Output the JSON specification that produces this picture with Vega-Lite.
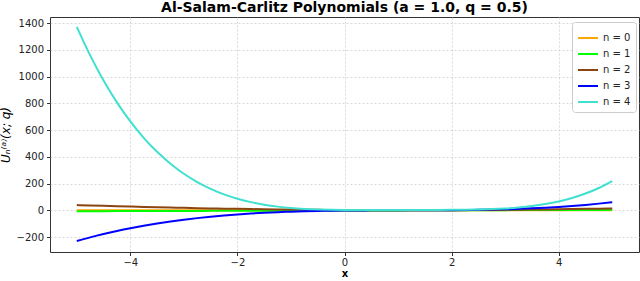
{
  "$schema": "https://vega.github.io/schema/vega-lite/v6.json",
  "width": 589,
  "height": 235,
  "autosize": {"type": "none"},
  "padding": {"left": 50, "top": 17, "right": 1, "bottom": 29},
  "background": "white",
  "config": {
    "font": "DejaVu Sans",
    "view": {"stroke": "#333333", "strokeWidth": 1},
    "axis": {
      "domain": false,
      "grid": true,
      "gridColor": "#cfcfcf",
      "gridDash": [2, 2],
      "gridWidth": 0.8,
      "tickColor": "#333333",
      "tickSize": 3.5,
      "labelFont": "DejaVu Sans",
      "labelFontSize": 10,
      "labelColor": "#222222",
      "labelPadding": 3,
      "titleFont": "DejaVu Sans",
      "titleColor": "#000000"
    }
  },
  "title": {
    "text": "Al-Salam-Carlitz Polynomials (a = 1.0, q = 0.5)",
    "font": "DejaVu Sans",
    "fontSize": 14,
    "fontWeight": "bold",
    "color": "#000000",
    "anchor": "middle",
    "offset": 2
  },
  "data": {
    "values": [
      {"x": -5, "n0": 1, "n1": -7, "n2": 39, "n3": -229.5, "n4": 1371},
      {"x": -4.75, "n0": 1, "n1": -6.75, "n2": 35.94, "n3": -202.63, "n4": 1157.81},
      {"x": -4.5, "n0": 1, "n1": -6.5, "n2": 33, "n3": -177.95, "n4": 970.4},
      {"x": -4.25, "n0": 1, "n1": -6.25, "n2": 30.19, "n3": -155.37, "n4": 806.62},
      {"x": -4, "n0": 1, "n1": -6, "n2": 27.5, "n3": -134.8, "n4": 664.4},
      {"x": -3.75, "n0": 1, "n1": -5.75, "n2": 24.94, "n3": -116.14, "n4": 541.77},
      {"x": -3.5, "n0": 1, "n1": -5.5, "n2": 22.5, "n3": -99.3, "n4": 436.88},
      {"x": -3.25, "n0": 1, "n1": -5.25, "n2": 20.19, "n3": -84.19, "n4": 347.92},
      {"x": -3, "n0": 1, "n1": -5, "n2": 18, "n3": -70.7, "n4": 273.2},
      {"x": -2.75, "n0": 1, "n1": -4.75, "n2": 15.94, "n3": -58.75, "n4": 211.15},
      {"x": -2.5, "n0": 1, "n1": -4.5, "n2": 14, "n3": -48.25, "n4": 160.25},
      {"x": -2.25, "n0": 1, "n1": -4.25, "n2": 12.19, "n3": -39.1, "n4": 119.11},
      {"x": -2, "n0": 1, "n1": -4, "n2": 10.5, "n3": -31.2, "n4": 86.4},
      {"x": -1.75, "n0": 1, "n1": -3.75, "n2": 8.94, "n3": -24.47, "n4": 60.92},
      {"x": -1.5, "n0": 1, "n1": -3.5, "n2": 7.5, "n3": -18.8, "n4": 41.53},
      {"x": -1.25, "n0": 1, "n1": -3.25, "n2": 6.19, "n3": -14.11, "n4": 27.2},
      {"x": -1, "n0": 1, "n1": -3, "n2": 5, "n3": -10.3, "n4": 17},
      {"x": -0.75, "n0": 1, "n1": -2.75, "n2": 3.94, "n3": -7.28, "n4": 10.09},
      {"x": -0.5, "n0": 1, "n1": -2.5, "n2": 3, "n3": -4.95, "n4": 5.7},
      {"x": -0.25, "n0": 1, "n1": -2.25, "n2": 2.19, "n3": -3.22, "n4": 3.19},
      {"x": 0, "n0": 1, "n1": -2, "n2": 1.5, "n3": -2, "n4": 2},
      {"x": 0.25, "n0": 1, "n1": -1.75, "n2": 0.94, "n3": -1.19, "n4": 1.65},
      {"x": 0.5, "n0": 1, "n1": -1.5, "n2": 0.5, "n3": -0.7, "n4": 1.78},
      {"x": 0.75, "n0": 1, "n1": -1.25, "n2": 0.19, "n3": -0.44, "n4": 2.09},
      {"x": 1, "n0": 1, "n1": -1, "n2": 0, "n3": -0.3, "n4": 2.4},
      {"x": 1.25, "n0": 1, "n1": -0.75, "n2": -0.06, "n3": -0.21, "n4": 2.62},
      {"x": 1.5, "n0": 1, "n1": -0.5, "n2": 0, "n3": -0.05, "n4": 2.75},
      {"x": 1.75, "n0": 1, "n1": -0.25, "n2": 0.19, "n3": 0.25, "n4": 2.88},
      {"x": 2, "n0": 1, "n1": 0, "n2": 0.5, "n3": 0.8, "n4": 3.2},
      {"x": 2.25, "n0": 1, "n1": 0.25, "n2": 0.94, "n3": 1.68, "n4": 3.99},
      {"x": 2.5, "n0": 1, "n1": 0.5, "n2": 1.5, "n3": 3, "n4": 5.63},
      {"x": 2.75, "n0": 1, "n1": 0.75, "n2": 2.19, "n3": 4.84, "n4": 8.57},
      {"x": 3, "n0": 1, "n1": 1, "n2": 3, "n3": 7.3, "n4": 13.4},
      {"x": 3.25, "n0": 1, "n1": 1.25, "n2": 3.94, "n3": 10.47, "n4": 20.76},
      {"x": 3.5, "n0": 1, "n1": 1.5, "n2": 5, "n3": 14.45, "n4": 31.4},
      {"x": 3.75, "n0": 1, "n1": 1.75, "n2": 6.19, "n3": 19.32, "n4": 46.17},
      {"x": 4, "n0": 1, "n1": 2, "n2": 7.5, "n3": 25.2, "n4": 66},
      {"x": 4.25, "n0": 1, "n1": 2.25, "n2": 8.94, "n3": 32.16, "n4": 91.92},
      {"x": 4.5, "n0": 1, "n1": 2.5, "n2": 10.5, "n3": 40.3, "n4": 125.08},
      {"x": 4.75, "n0": 1, "n1": 2.75, "n2": 12.19, "n3": 49.71, "n4": 166.67},
      {"x": 5, "n0": 1, "n1": 3, "n2": 14, "n3": 60.5, "n4": 218}
    ]
  },
  "transform": [
    {"fold": ["n0", "n1", "n2", "n3", "n4"], "as": ["series", "value"]}
  ],
  "mark": {"type": "line", "strokeWidth": 2, "interpolate": "monotone", "clip": true},
  "encoding": {
    "x": {
      "field": "x",
      "type": "quantitative",
      "scale": {"domain": [-5.5, 5.5], "nice": false, "zero": false},
      "axis": {"values": [-4, -2, 0, 2, 4], "format": "d", "labelPadding": 2, "title": "x", "titleFontWeight": "bold", "titleFontSize": 10, "titlePadding": 1}
    },
    "y": {
      "field": "value",
      "type": "quantitative",
      "scale": {"domain": [-312, 1445], "nice": false, "zero": false},
      "axis": {"values": [-200, 0, 200, 400, 600, 800, 1000, 1200, 1400], "format": "d", "title": "Uₙ⁽ᵃ⁾(x; q)", "titleFontStyle": "italic", "titleFontWeight": "normal", "titleFontSize": 12, "titlePadding": 4}
    },
    "color": {
      "field": "series",
      "type": "nominal",
      "scale": {"domain": ["n0", "n1", "n2", "n3", "n4"], "range": ["#FFA500", "#00FF00", "#8B4513", "#0000FF", "#40E0D0"]},
      "legend": {
        "title": null,
        "orient": "none",
        "legendX": 522,
        "legendY": 5,
        "labelExpr": "'n = ' + slice(datum.label, 1)",
        "fillColor": "white",
        "strokeColor": "#cccccc",
        "cornerRadius": 3,
        "padding": 5,
        "symbolType": "stroke",
        "symbolSize": 400,
        "symbolStrokeWidth": 2,
        "labelFontSize": 10,
        "labelColor": "#222222",
        "labelFont": "DejaVu Sans",
        "rowPadding": -5
      }
    },
    "order": {"field": "series"}
  }
}
